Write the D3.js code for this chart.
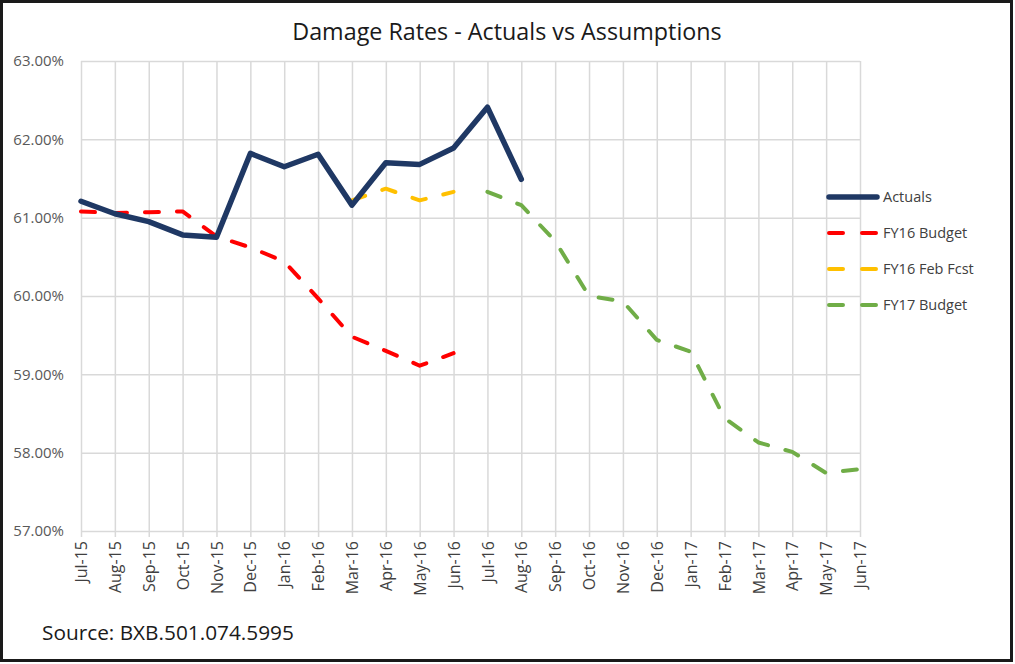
<!DOCTYPE html>
<html>
<head>
<meta charset="utf-8">
<script src="https://cdn.jsdelivr.net/npm/d3@7"></script>
<style>
  body { margin: 0; background: #fff; }
  text { font-family: "Open Sans", Carlito, Calibri, sans-serif; }
</style>
</head>
<body>
<div id="chart"></div>
<script>
// months on the x axis
var months = ["Jul-15","Aug-15","Sep-15","Oct-15","Nov-15","Dec-15","Jan-16","Feb-16","Mar-16","Apr-16","May-16","Jun-16",
              "Jul-16","Aug-16","Sep-16","Oct-16","Nov-16","Dec-16","Jan-17","Feb-17","Mar-17","Apr-17","May-17","Jun-17"];

// values in %, null = no point
var actuals     = [61.21,61.05,60.95,60.78,60.75,61.82,61.65,61.81,61.16,61.70,61.68,61.89,62.41,61.49,
                   null,null,null,null,null,null,null,null,null,null];
var fy16Budget  = [61.08,61.06,61.07,61.08,60.76,60.62,60.44,59.97,59.48,59.30,59.11,59.27,
                   null,null,null,null,null,null,null,null,null,null,null,null];
var fy16FebFcst = [null,null,null,null,null,null,null,null,61.22,61.37,61.22,61.33,
                   null,null,null,null,null,null,null,null,null,null,null,null];
var fy17Budget  = [null,null,null,null,null,null,null,null,null,null,null,null,
                   61.33,61.16,60.70,60.00,59.93,59.44,59.29,58.44,58.13,58.01,57.74,57.79];

var yTicks = [57,58,59,60,61,62,63];

var series = [
  {name: "Actuals",       values: actuals,     color: "#1F3864", width: 5.5, dash: null},
  {name: "FY16 Budget",   values: fy16Budget,  color: "#FF0000", width: 4, dash: "14,18"},
  {name: "FY16 Feb Fcst", values: fy16FebFcst, color: "#FFC000", width: 4, dash: "14,18"},
  {name: "FY17 Budget",   values: fy17Budget,  color: "#70AD47", width: 4, dash: "14,18"}
];

var W = 1015, H = 664;
var margin = {top: 61, left: 81};
var width = 779, height = 470;

var svg = d3.select("#chart").append("svg")
    .attr("width", W)
    .attr("height", H);

svg.append("rect")
    .attr("x", 1.5).attr("y", 1.5)
    .attr("width", W - 5).attr("height", H - 5)
    .attr("fill", "#fff")
    .attr("stroke", "#1a1a1a")
    .attr("stroke-width", 3);

svg.append("text")
    .attr("x", 507)
    .attr("y", 40)
    .attr("text-anchor", "middle")
    .attr("font-size", "23.3px")
    .attr("fill", "#1a1a1a")
    .text("Damage Rates - Actuals vs Assumptions");

var g = svg.append("g")
    .attr("transform", "translate(" + margin.left + "," + margin.top + ")");

var x = d3.scalePoint().domain(months).range([0, width]);
var y = d3.scaleLinear().domain([57, 63]).range([height, 0]);

// horizontal grid + y labels
var yAxis = g.append("g")
    .call(d3.axisLeft(y).tickValues(yTicks).tickSize(-width).tickPadding(17)
        .tickFormat(function(d){ return d.toFixed(2) + "%"; }));
yAxis.select(".domain").remove();
yAxis.selectAll("line").attr("stroke", "#d9d9d9").attr("stroke-width", 1.5);
yAxis.selectAll("text").attr("font-size", "15px").attr("fill", "#595959");

// vertical grid + month labels
var xAxis = g.append("g")
    .attr("transform", "translate(0," + height + ")")
    .call(d3.axisBottom(x).tickSize(-height - 6).tickPadding(0));
xAxis.select(".domain").remove();
xAxis.selectAll("line").attr("stroke", "#d9d9d9").attr("stroke-width", 1.5)
    .attr("transform", "translate(0,6)");
xAxis.selectAll("text")
    .attr("font-size", "16px")
    .attr("fill", "#404040")
    .attr("text-anchor", "end")
    .attr("transform", "translate(0,10) rotate(-90)")
    .attr("x", 0).attr("y", 0)
    .attr("dy", "0.35em");

var line = d3.line()
    .defined(function(d){ return d !== null; })
    .x(function(d, i){ return x(months[i]); })
    .y(function(d){ return y(d); });

// draw dashed first, actuals on top
[series[1], series[2], series[3], series[0]].forEach(function(s){
  g.append("path")
    .datum(s.values)
    .attr("d", line)
    .attr("fill", "none")
    .attr("stroke", s.color)
    .attr("stroke-width", s.width)
    .attr("stroke-linecap", "round")
    .attr("stroke-linejoin", "round")
    .attr("stroke-dasharray", s.dash);
});

// legend
var legend = svg.append("g").attr("transform", "translate(827,197)");
series.forEach(function(s, i){
  var row = legend.append("g").attr("transform", "translate(0," + (i * 36) + ")");
  row.append("line")
    .attr("x1", 2).attr("x2", 50)
    .attr("stroke", s.color)
    .attr("stroke-width", s.width)
    .attr("stroke-linecap", "round")
    .attr("stroke-dasharray", s.dash ? "14,19" : null);
  row.append("text")
    .attr("x", 56)
    .attr("dy", "0.35em")
    .attr("font-size", "14.5px")
    .attr("fill", "#404040")
    .text(s.name);
});

svg.append("text")
    .attr("x", 42)
    .attr("y", 640)
    .attr("font-size", "20.8px")
    .attr("fill", "#1a1a1a")
    .text("Source: BXB.501.074.5995");
</script>
</body>
</html>
